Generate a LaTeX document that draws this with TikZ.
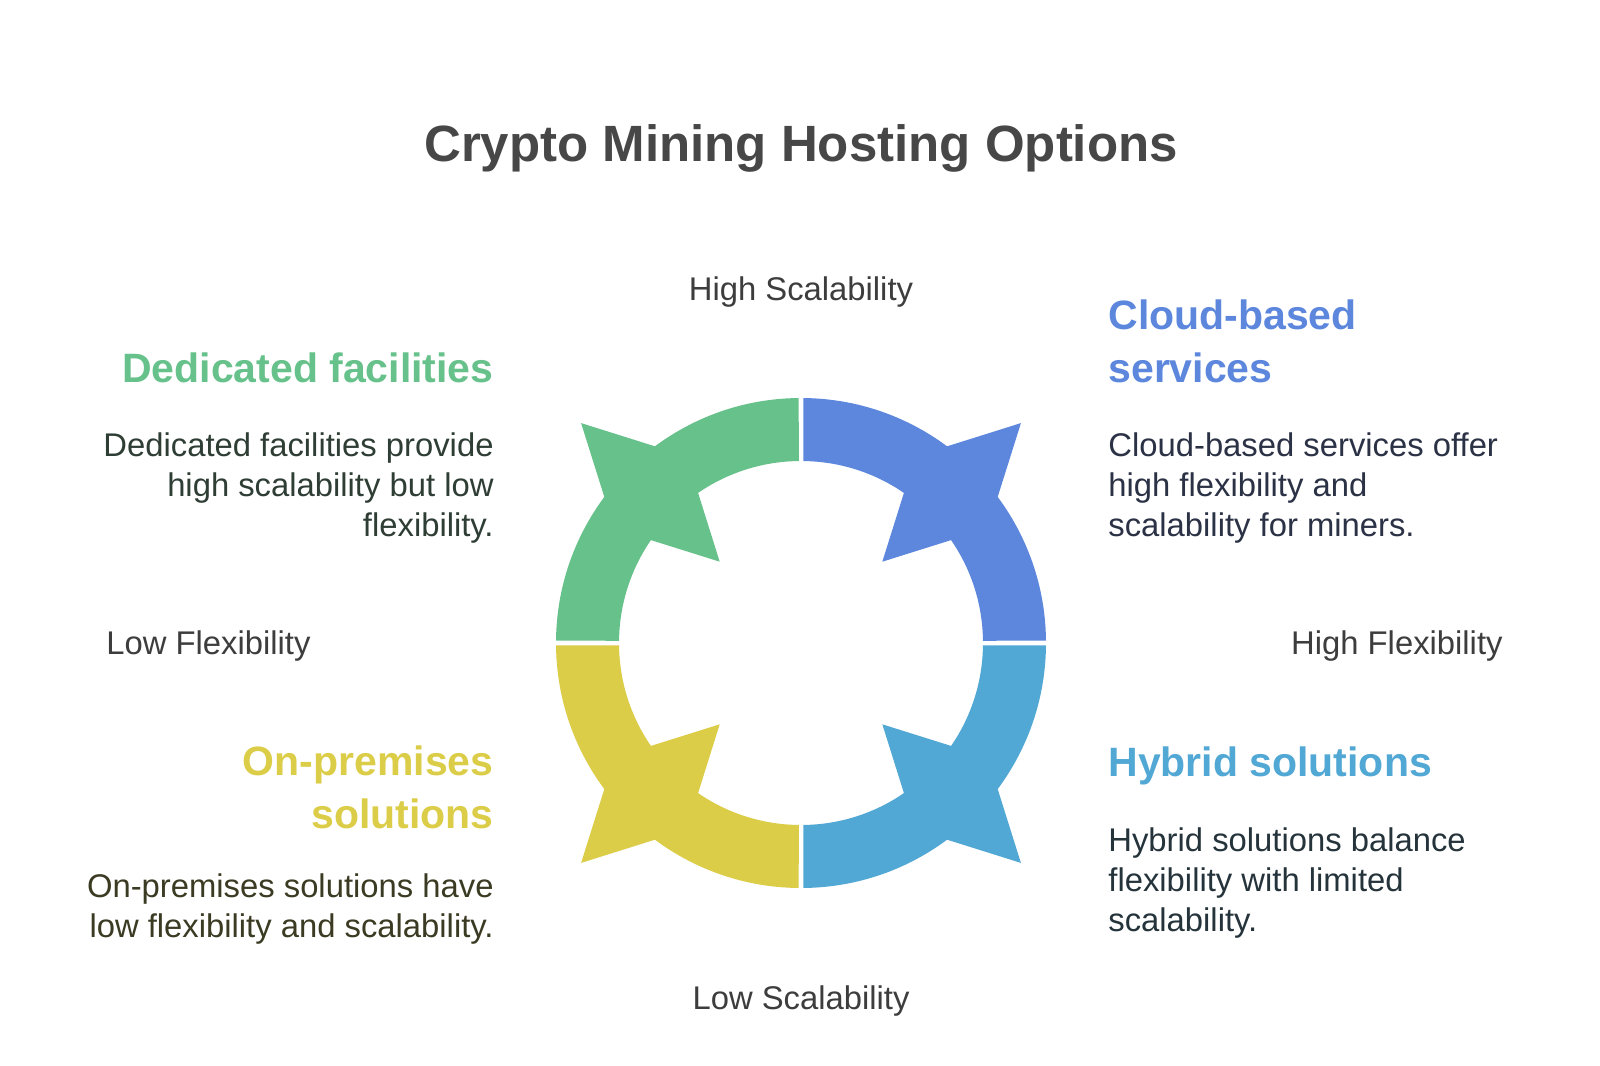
\documentclass[tikz,border=0pt]{standalone}
\usepackage{fontspec}
\setmainfont{Liberation Sans}
\definecolor{cgreen}{HTML}{67C18A}
\definecolor{cblue}{HTML}{5C87DD}
\definecolor{clblue}{HTML}{52A8D4}
\definecolor{cyellow}{HTML}{DCCD48}
\definecolor{titlecol}{HTML}{474747}
\definecolor{axiscol}{HTML}{3D3D3D}
\definecolor{dgreen}{HTML}{2F3E35}
\definecolor{dblue}{HTML}{2B3245}
\definecolor{dyellow}{HTML}{3B3A22}
\definecolor{dlblue}{HTML}{25333B}
\begin{document}
\begin{tikzpicture}[x=0.5pt,y=-0.5pt,
  titlestyle/.style={font=\fontsize{25.5pt}{30pt}\selectfont\bfseries, text=titlecol, inner sep=0pt, anchor=base},
  axisstyle/.style={font=\fontsize{16.4pt}{20pt}\selectfont, text=axiscol, inner sep=0pt},
  headstyle/.style={font=\fontsize{20.5pt}{26.5pt}\selectfont\bfseries, inner sep=0pt},
  descstyle/.style={font=\fontsize{16.4pt}{20pt}\selectfont, inner sep=0pt}]
\useasboundingbox (0,0) rectangle (1600,1065);
\fill[white] (0,0) rectangle (1600,1065);

% ring
\begin{scope}[shift={(801,643)}, x=0.5pt, y=0.5pt]
\foreach \a/\c in {0/cblue, 90/cgreen, 180/cyellow, 270/clblue} {
  \fill[\c] (\a+0.53:245) arc[start angle=\a+0.53, end angle=\a+89.47, radius=245]
     -- (\a+89.29:182) arc[start angle=\a+89.29, end angle=\a+0.71, radius=182] -- cycle;
  \fill[\c] (\a+45:311) -- (\a+31.5:219) -- (\a+45:115) -- (\a+58.5:219) -- cycle;
}
\end{scope}

% title
\node[titlestyle] (title) at (801,162) {Crypto Mining Hosting Options};

% axis labels
\node[axisstyle, anchor=base] (hs) at (801,300) {High Scalability};
\node[axisstyle, anchor=base] (ls) at (801,1009) {Low Scalability};
\node[axisstyle, anchor=base west] (lf) at (106,654) {Low Flexibility};
\node[axisstyle, anchor=base east] (hf) at (1503,654) {High Flexibility};

% (multi-line nodes: the base anchor is the baseline of the last line)
% Dedicated facilities
\node[headstyle, text=cgreen, anchor=base east, align=right] (dedh) at (494,382) {Dedicated facilities};
\node[descstyle, text=dgreen, anchor=base east, align=right] (dedd) at (494,536)
  {Dedicated facilities provide\\high scalability but low\\flexibility.};

% Cloud-based services
\node[headstyle, text=cblue, anchor=base west, align=left] (cloh) at (1108,382) {Cloud-based\\services};
\node[descstyle, text=dblue, anchor=base west, align=left] (clod) at (1108,536)
  {Cloud-based services offer\\high flexibility and\\scalability for miners.};

% On-premises solutions
\node[headstyle, text=cyellow, anchor=base east, align=right] (onph) at (494,828) {On-premises\\solutions};
\node[descstyle, text=dyellow, anchor=base east, align=right] (onpd) at (494,937)
  {On-premises solutions have\\low flexibility and scalability.};

% Hybrid solutions
\node[headstyle, text=clblue, anchor=base west, align=left] (hybh) at (1108,776) {Hybrid solutions};
\node[descstyle, text=dlblue, anchor=base west, align=left] (hybd) at (1108,931)
  {Hybrid solutions balance\\flexibility with limited\\scalability.};
\end{tikzpicture}
\end{document}
